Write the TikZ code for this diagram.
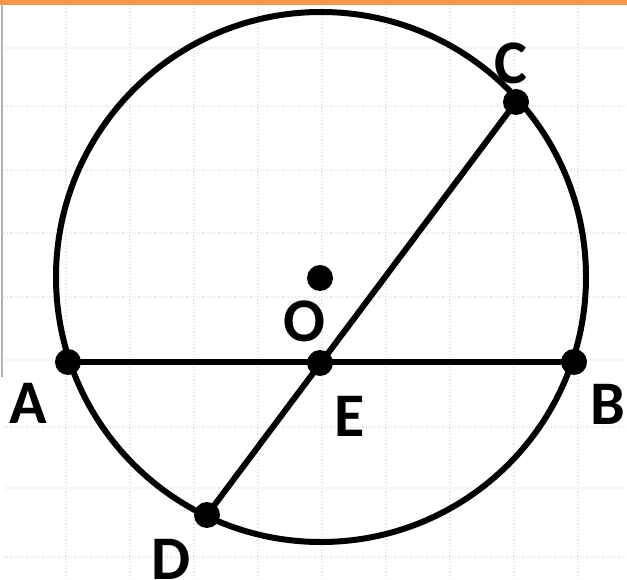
\documentclass[tikz,border=0pt]{standalone}
\usepackage{fontspec}
\setmainfont{Carlito}
\definecolor{barorange}{HTML}{F79646}
\definecolor{gridgray}{HTML}{E4E4EA}
\begin{document}
\begin{tikzpicture}[x=1pt,y=-1pt,
  dot/.style={circle,fill=black,inner sep=0pt,minimum size=26pt},
  lbl/.style={inner sep=0pt,font=\fontsize{62}{62}\selectfont\bfseries},
  geo/.style={line width=6pt,draw=black},
  gridline/.style={draw=gridgray,line width=1.2pt,dotted}]
\useasboundingbox (0,0) rectangle (627,580);
\fill[white] (0,0) rectangle (627,580);
% faint grid
\foreach \x in {66,130,194,258,322,386,450,514,578}
  \draw[gridline] (\x,5) -- (\x,580);
\foreach \y in {48,106,170,233,297,360,427,488,557}
  \draw[gridline] (4,\y) -- (627,\y);
% top orange bar and left border
\fill[barorange] (0,0) rectangle (627,5);
\draw[gray!60,line width=2pt] (2,5) -- (2,377);
% circle
\coordinate (Oc) at (321,277);
\draw[geo] (Oc) circle[radius=265];
% points
\node[dot] (A) at (68,362) {};
\node[dot] (B) at (574,362) {};
\node[dot] (C) at (516,102) {};
\node[dot] (D) at (207,515) {};
\node[dot] (E) at (320,363) {};
\node[dot] (O) at (320,278) {};
% chords
\draw[geo] (A.center) -- (B.center);
\draw[geo] (C.center) -- (D.center);
% labels
\node[lbl] (lA) at (28,403) {A};
\node[lbl] (lB) at (608,404) {B};
\node[lbl] (lC) at (511,63) {C};
\node[lbl] (lD) at (171,559) {D};
\node[lbl] (lE) at (350,416) {E};
\node[lbl] (lO) at (304,321) {O};
\end{tikzpicture}
\end{document}
